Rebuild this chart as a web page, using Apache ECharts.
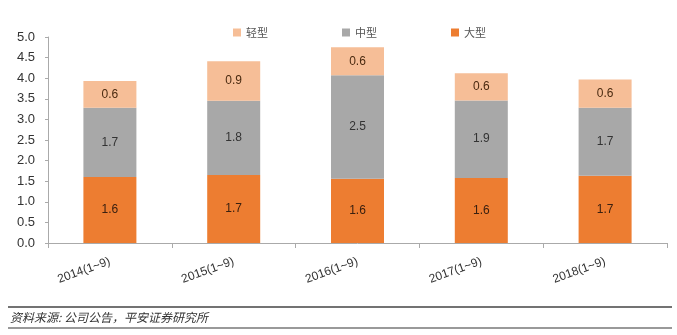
<!DOCTYPE html>
<html><head><meta charset="utf-8">
<script src="https://cdn.jsdelivr.net/npm/echarts@6/dist/echarts.min.js"></script>
<style>html,body{margin:0;padding:0;background:#fff}#c{width:677px;height:335px}</style>
</head><body><div id="c"></div>
<script>
var categories = ['2014(1~9)', '2015(1~9)', '2016(1~9)', '2017(1~9)', '2018(1~9)'];
var large = [1.60, 1.65, 1.56, 1.58, 1.63];
var medium = [1.68, 1.80, 2.51, 1.88, 1.65];
var light = [0.65, 0.96, 0.68, 0.66, 0.69];
var largeLabels = ['1.6', '1.7', '1.6', '1.6', '1.7'];
var mediumLabels = ['1.7', '1.8', '2.5', '1.9', '1.7'];
var lightLabels = ['0.6', '0.9', '0.6', '0.6', '0.6'];
var yTicks = ['0.0','0.5','1.0','1.5','2.0','2.5','3.0','3.5','4.0','4.5','5.0'];

var chart = echarts.init(document.getElementById('c'));
function mk(name, data, labels, color, textColor) {
  return {
    name: name, type: 'bar', stack: 'a', data: data, barWidth: 53,
    itemStyle: { color: color },
    label: { show: true, position: 'inside', color: textColor, fontSize: 12,
      fontFamily: 'Liberation Sans, Arial',
      formatter: function (p) { return labels[p.dataIndex]; } }
  };
}
chart.setOption({
  animation: false,
  grid: { left: 48, right: 10, top: 37, bottom: 92, containLabel: false },
  legend: {
    top: 22, left: 228, itemWidth: 8, itemHeight: 8, itemGap: 74,
    textStyle: { fontSize: 11, color: '#555', fontFamily: 'Noto Sans CJK SC' },
    data: [{name:'轻型', icon:'rect'}, {name:'中型', icon:'rect'}, {name:'大型', icon:'rect'}]
  },
  xAxis: {
    type: 'category', data: categories,
    axisLine: { lineStyle: { color: '#aaa' } },
    axisTick: { show: true, lineStyle: { color: '#aaa' } },
    axisLabel: { rotate: 20, color: '#333', fontSize: 12, margin: 18,
      fontFamily: 'Liberation Sans, Arial' }
  },
  yAxis: {
    type: 'value', min: 0, max: 5, interval: 0.5,
    splitLine: { show: false },
    axisLine: { show: true, lineStyle: { color: '#aaa' } },
    axisTick: { show: true, inside: false, length: 3, lineStyle: { color: '#aaa' } },
    axisLabel: { color: '#333', fontSize: 13, margin: 13, fontFamily: 'Liberation Sans, Arial',
      formatter: function (v) { return yTicks[Math.round(v * 2)]; } }
  },
  series: [
    mk('大型', large, largeLabels, '#ED7D31', '#3a2010'),
    mk('中型', medium, mediumLabels, '#A8A8A8', '#333'),
    mk('轻型', light, lightLabels, '#F6BE97', '#4a2a10')
  ],
  graphic: [
    { type: 'line', shape: { x1: 8, y1: 307, x2: 672, y2: 307 }, style: { stroke: '#444', lineWidth: 1.5 } },
    { type: 'line', shape: { x1: 8, y1: 328, x2: 672, y2: 328 }, style: { stroke: '#777', lineWidth: 1.5 } },
    { type: 'text', left: 10, top: 311, style: { text: '资料来源: 公司公告，平安证券研究所', fontSize: 12,
      fontStyle: 'italic', fill: '#333', fontFamily: 'Noto Sans CJK SC' } }
  ]
});
</script></body></html>
